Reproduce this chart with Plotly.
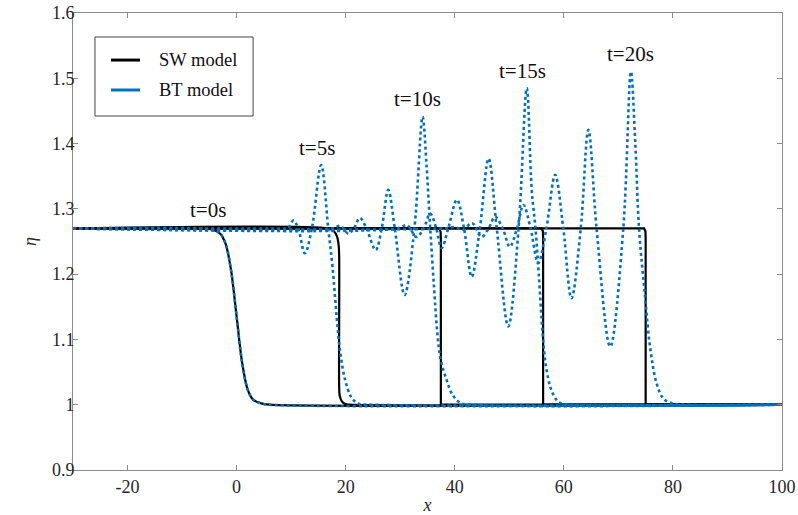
import plotly.graph_objects as go

# ---------------- data ----------------
# Shallow-water (SW) model profiles
sw_x_t0 = [-30, -6, -4.3, -3, -2, -1, 0, 1, 2, 3, 4.5, 6, 100]
sw_y_t0 = [1.27, 1.27, 1.268, 1.262, 1.246, 1.205, 1.135, 1.065, 1.024, 1.008, 1.002, 1.0, 1.0]

sw_x_t5 = [-30, 16.8, 17.8, 18.4, 18.7, 18.8, 18.8, 18.9, 19.3, 19.9, 20.6, 100]
sw_y_t5 = [1.27, 1.27, 1.266, 1.258, 1.245, 1.23, 1.03, 1.014, 1.005, 1.001, 1.0, 1.0]

sw_x_t10 = [-30, 37.1, 37.4, 37.45, 37.45, 37.6, 100]
sw_y_t10 = [1.27, 1.27, 1.265, 1.255, 1.0, 1.0, 1.0]

sw_x_t15 = [-30, 55.9, 56.15, 56.2, 56.2, 56.3, 100]
sw_y_t15 = [1.27, 1.27, 1.266, 1.257, 1.0, 1.0, 1.0]

sw_x_t20 = [-30, 74.7, 74.95, 75.0, 75.0, 75.1, 100]
sw_y_t20 = [1.27, 1.27, 1.266, 1.257, 1.0, 1.0, 1.0]

# Boussinesq-type (BT) model profiles
bt_x_t0 = sw_x_t0
bt_y_t0 = sw_y_t0

bt_x_t5 = [-30, 8.5, 9.4, 10.4, 11.3, 12.5, 13.8, 15.5, 16.8, 17.6, 18.35, 19.0,
           19.9, 21.0, 22.2, 25, 100]
bt_y_t5 = [1.27, 1.27, 1.27, 1.282, 1.27, 1.232, 1.27, 1.367, 1.27, 1.21, 1.134, 1.08,
           1.038, 1.012, 1.002, 1.0, 1.0]

bt_x_t10 = [-30, 17.5, 19.0, 20.5, 21.5, 22.6, 23.8, 25.5, 26.6, 27.8, 29.0, 30.8,
            32.6, 34.1, 34.8, 35.5, 36.2, 36.8, 37.4, 38.5, 39.6, 41.0, 43.0, 100]
bt_y_t10 = [1.27, 1.27, 1.274, 1.262, 1.27, 1.286, 1.27, 1.237, 1.27, 1.329, 1.27, 1.168,
            1.27, 1.441, 1.37, 1.27, 1.18, 1.11, 1.07, 1.038, 1.015, 1.003, 1.0, 1.0]

bt_x_t15 = [-30, 29.5, 31.2, 33.0, 34.3, 35.5, 36.6, 37.6, 38.8, 40.4, 41.7, 43.1,
            44.6, 46.2, 47.7, 49.8, 51.7, 53.2, 54.1, 54.8, 55.4, 56.1, 56.7, 57.6,
            58.6, 59.5, 61.0, 100]
bt_y_t15 = [1.27, 1.27, 1.275, 1.257, 1.27, 1.293, 1.27, 1.24, 1.27, 1.314, 1.27, 1.196,
            1.27, 1.377, 1.27, 1.12, 1.27, 1.485, 1.33, 1.27, 1.20, 1.11, 1.06, 1.025,
            1.008, 1.002, 1.0, 1.0]

bt_x_t20 = [-30, 38.0, 40.0, 41.5, 43.2, 44.9, 46.2, 47.4, 48.8, 50.1, 51.4, 52.6,
            53.9, 55.3, 56.8, 58.4, 59.9, 61.4, 63.1, 64.5, 66.0, 68.5, 70.9, 72.3,
            73.1, 73.8, 74.9, 75.8, 77.0, 78.2, 79.5, 82.0, 100]
bt_y_t20 = [1.27, 1.27, 1.272, 1.268, 1.278, 1.257, 1.27, 1.288, 1.27, 1.242, 1.27, 1.306,
            1.27, 1.217, 1.27, 1.352, 1.27, 1.163, 1.27, 1.421, 1.27, 1.089, 1.27, 1.51,
            1.40, 1.268, 1.165, 1.089, 1.033, 1.01, 1.003, 1.0, 1.0]

time_labels = ["t=0s", "t=5s", "t=10s", "t=15s", "t=20s"]
label_x = [-5.2, 14.8, 33.2, 52.4, 72.3]
label_y = [1.298, 1.393, 1.468, 1.511, 1.537]

legend_names = ["SW model", "BT model"]

x_ticks = [-20, 0, 20, 40, 60, 80, 100]
x_tick_text = ["-20", "0", "20", "40", "60", "80", "100"]
y_ticks = [0.9, 1.0, 1.1, 1.2, 1.3, 1.4, 1.5, 1.6]
y_tick_text = ["0.9", "1", "1.1", "1.2", "1.3", "1.4", "1.5", "1.6"]

# ---------------- figure ----------------
SW_COLOR = "#000000"
BT_COLOR = "#0072BD"
FONT = "Liberation Serif"

fig = go.Figure()

sw_sets = [(sw_x_t0, sw_y_t0, "spline"), (sw_x_t5, sw_y_t5, "spline"),
           (sw_x_t10, sw_y_t10, "linear"), (sw_x_t15, sw_y_t15, "linear"),
           (sw_x_t20, sw_y_t20, "linear")]
for xs, ys, shape in sw_sets:
    fig.add_trace(go.Scatter(x=xs, y=ys, mode="lines", showlegend=False,
                             line=dict(color=SW_COLOR, width=2.2, shape=shape,
                                       smoothing=0.8),
                             hoverinfo="skip"))

bt_sets = [(bt_x_t0, bt_y_t0), (bt_x_t5, bt_y_t5), (bt_x_t10, bt_y_t10),
           (bt_x_t15, bt_y_t15), (bt_x_t20, bt_y_t20)]
for xs, ys in bt_sets:
    fig.add_trace(go.Scatter(x=xs, y=ys, mode="lines", showlegend=False,
                             line=dict(color=BT_COLOR, width=2.6, dash="dot",
                                       shape="spline", smoothing=1.0),
                             hoverinfo="skip"))

for txt, lx, ly in zip(time_labels, label_x, label_y):
    fig.add_annotation(x=lx, y=ly, text=txt, showarrow=False,
                       font=dict(family=FONT, size=21, color="#111111"))

# ---- legend drawn in paper coordinates (box, solid line samples, labels) ----
fig.add_shape(type="rect", xref="paper", yref="paper",
              x0=0.031, x1=0.254, y0=0.7746, y1=0.9475,
              line=dict(color="#444444", width=1), fillcolor="white", layer="above")
legend_rows_y = [0.897, 0.8315]
for name, color, ry in zip(legend_names, [SW_COLOR, BT_COLOR], legend_rows_y):
    fig.add_shape(type="line", xref="paper", yref="paper",
                  x0=0.0536, x1=0.0945, y0=ry, y1=ry,
                  line=dict(color=color, width=3), layer="above")
    fig.add_annotation(xref="paper", yref="paper", x=0.1185, y=ry, text=name,
                       showarrow=False, xanchor="left", yanchor="middle",
                       font=dict(family=FONT, size=18.5, color="#111111"))

axis_common = dict(showline=True, linecolor="#8c8c8c", linewidth=1, mirror="ticks",
                   ticks="inside", ticklen=5, tickcolor="#8c8c8c", showgrid=False,
                   zeroline=False, automargin=False,
                   tickfont=dict(family=FONT, size=18, color="#262626"))

fig.update_layout(
    width=798, height=515,
    margin=dict(l=73, r=16, t=13, b=45, autoexpand=False),
    paper_bgcolor="white", plot_bgcolor="white",
    xaxis=dict(range=[-30, 100], tickvals=x_ticks, ticktext=x_tick_text,
               title=dict(text="<i>x</i>", standoff=2,
                          font=dict(family=FONT, size=18, color="#262626")),
               **axis_common),
    yaxis=dict(range=[0.9, 1.6], tickvals=y_ticks, ticktext=y_tick_text,
               ticklabelstandoff=-6,
               title=dict(text="<i>η</i>", standoff=10,
                          font=dict(family=FONT, size=18, color="#262626")),
               **axis_common),
    showlegend=False,
)

fig.write_html("out.html")
